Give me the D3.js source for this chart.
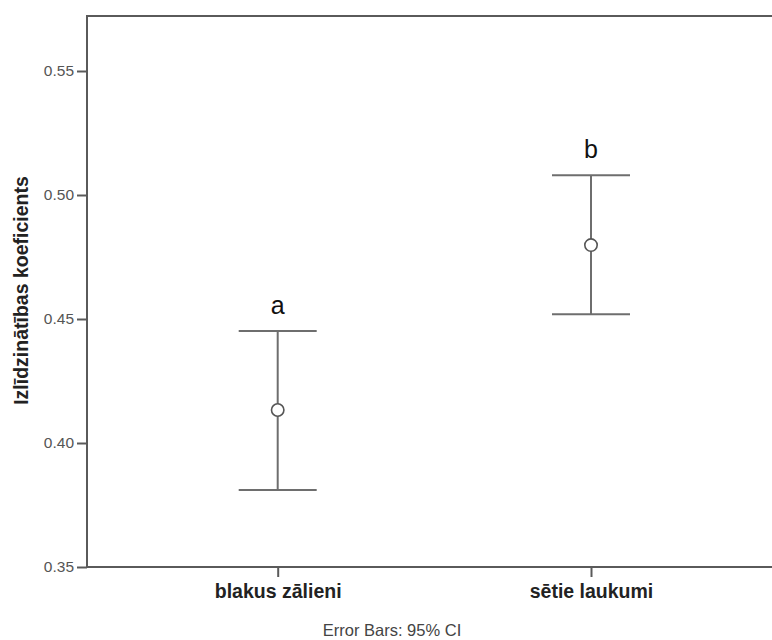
<!DOCTYPE html>
<html>
<head>
<meta charset="utf-8">
<script src="https://cdn.jsdelivr.net/npm/d3@7"></script>
<style>
  html, body { margin: 0; padding: 0; background: #fff; }
  svg { display: block; }
</style>
</head>
<body>
<svg id="chart" width="772" height="640"></svg>
<script>
// Group means with 95% confidence intervals
const groups = ["blakus zālieni", "sētie laukumi"];
const means = [0.4133, 0.4798];
const ciLow = [0.381, 0.4519];
const ciHigh = [0.4452, 0.508];
const letters = ["a", "b"];
const yTicks = [0.35, 0.40, 0.45, 0.50, 0.55];

const svg = d3.select("#chart");
const plot = { left: 87, top: 16, right: 790, bottom: 567 };

const y = d3.scaleLinear().domain([0.35, 0.55]).range([567, 71]);
const x = d3.scalePoint().domain(groups).range([277.7, 591]);

const axisColor = "#5a5a5a";
const barColor = "#6e6e6e";
const font = "'Liberation Sans', Arial, sans-serif";

// Frame: left, top and bottom edges of the plot area
svg.append("path")
  .attr("d", `M${plot.right},${plot.top}H${plot.left}V${plot.bottom}H${plot.right}`)
  .attr("fill", "none").attr("stroke", axisColor).attr("stroke-width", 2);

// Y axis
const yAxis = svg.append("g")
  .attr("transform", `translate(${plot.left},0)`)
  .call(d3.axisLeft(y).tickValues(yTicks).tickFormat(d3.format(".2f")).tickSize(10).tickPadding(3));
yAxis.select(".domain").remove();
yAxis.selectAll(".tick line").attr("stroke", axisColor).attr("stroke-width", 2);
yAxis.selectAll(".tick text")
  .attr("fill", "#555").style("font-family", font)
  .style("font-size", "15.5px");

// X axis
const xAxis = svg.append("g")
  .attr("transform", `translate(0,${plot.bottom})`)
  .call(d3.axisBottom(x).tickSize(10).tickPadding(7));
xAxis.select(".domain").remove();
xAxis.selectAll(".tick line").attr("stroke", axisColor).attr("stroke-width", 2);
xAxis.selectAll(".tick text")
  .attr("fill", "#222").style("font-family", font)
  .style("font-size", "19.5px").style("font-weight", "bold");

// Y axis title
svg.append("text")
  .attr("transform", "translate(28,290.5) rotate(-90)")
  .attr("text-anchor", "middle")
  .style("font-family", font)
  .style("font-size", "19.5px").style("font-weight", "bold")
  .attr("fill", "#222")
  .text("Izlīdzinātības koeficients");

// Footnote
svg.append("text")
  .attr("x", 392).attr("y", 636)
  .attr("text-anchor", "middle")
  .style("font-family", font)
  .style("font-size", "16.5px")
  .attr("fill", "#444")
  .text("Error Bars: 95% CI");

// Error bars
const capHalf = 39;
const bars = svg.append("g").selectAll("g").data(groups).join("g");
bars.append("line")
  .attr("x1", (d) => x(d)).attr("x2", (d) => x(d))
  .attr("y1", (d, i) => y(ciHigh[i])).attr("y2", (d, i) => y(ciLow[i]))
  .attr("stroke", barColor).attr("stroke-width", 2);
bars.append("line")
  .attr("x1", (d) => x(d) - capHalf).attr("x2", (d) => x(d) + capHalf)
  .attr("y1", (d, i) => y(ciHigh[i])).attr("y2", (d, i) => y(ciHigh[i]))
  .attr("stroke", barColor).attr("stroke-width", 2);
bars.append("line")
  .attr("x1", (d) => x(d) - capHalf).attr("x2", (d) => x(d) + capHalf)
  .attr("y1", (d, i) => y(ciLow[i])).attr("y2", (d, i) => y(ciLow[i]))
  .attr("stroke", barColor).attr("stroke-width", 2);
bars.append("circle")
  .attr("cx", (d) => x(d)).attr("cy", (d, i) => y(means[i]))
  .attr("r", 6.2)
  .attr("fill", "#fff").attr("stroke", "#555").attr("stroke-width", 1.6);
bars.append("text")
  .attr("x", (d) => x(d)).attr("y", (d, i) => y(ciHigh[i]) - 17)
  .attr("text-anchor", "middle")
  .style("font-family", font)
  .style("font-size", "25px")
  .attr("fill", "#111")
  .text((d, i) => letters[i]);
</script>
</body>
</html>
